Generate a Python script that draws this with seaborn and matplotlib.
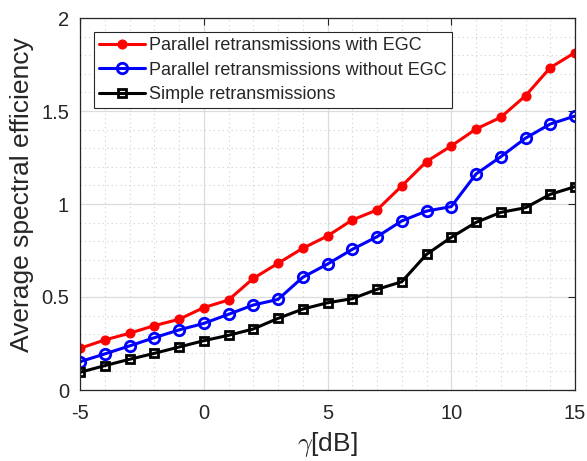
import matplotlib
matplotlib.use("Agg")
import matplotlib.pyplot as plt
import seaborn as sns
import pandas as pd
import numpy as np
from matplotlib.ticker import MultipleLocator

gamma_db = [-5, -4, -3, -2, -1, 0, 1, 2, 3, 4, 5, 6, 7, 8, 9, 10, 11, 12, 13, 14, 15]
egc = [0.224, 0.269, 0.305, 0.346, 0.380, 0.443, 0.484, 0.600, 0.681, 0.762, 0.828,
       0.914, 0.968, 1.097, 1.228, 1.312, 1.403, 1.466, 1.582, 1.733, 1.814]
no_egc = [0.152, 0.194, 0.237, 0.281, 0.323, 0.358, 0.407, 0.457, 0.487, 0.606, 0.677,
          0.756, 0.824, 0.909, 0.962, 0.986, 1.161, 1.254, 1.354, 1.430, 1.473]
simple = [0.095, 0.131, 0.165, 0.197, 0.231, 0.265, 0.294, 0.328, 0.385, 0.435, 0.469,
          0.491, 0.541, 0.582, 0.729, 0.821, 0.901, 0.955, 0.980, 1.052, 1.093]
labels = ["Parallel retransmissions with EGC",
          "Parallel retransmissions without EGC",
          "Simple retransmissions"]

sns.set_style("white")
plt.rcParams['font.family'] = ['Liberation Sans', 'DejaVu Sans']
plt.rcParams['axes.unicode_minus'] = False
plt.rcParams['mathtext.fontset'] = 'cm'

fig = plt.figure(figsize=(5.87, 4.61), dpi=100)
ax = fig.add_axes([80/587, 1-390/461, (575-80)/587, (390-18)/461])

styles = [
    dict(color="#ff0000", marker="o", markersize=6.5, markerfacecolor="#ff0000", markeredgecolor="#ff0000"),
    dict(color="#0000ff", marker="o", markersize=7.5, markerfacecolor="none", markeredgecolor="#0000ff", markeredgewidth=2),
    dict(color="#000000", marker="s", markersize=6, markerfacecolor="none", markeredgecolor="#000000", markeredgewidth=2),
]
for vals, lab, st in zip([egc, no_egc, simple], labels, styles):
    df = pd.DataFrame({"x": gamma_db, "y": vals})
    sns.lineplot(data=df, x="x", y="y", ax=ax, label=lab, linewidth=2.2, **st)

ax.set_xlim(-5, 15)
ax.set_ylim(0, 2)
ax.xaxis.set_major_locator(MultipleLocator(5))
ax.xaxis.set_minor_locator(MultipleLocator(1))
ax.yaxis.set_major_locator(MultipleLocator(0.5))
ax.yaxis.set_minor_locator(MultipleLocator(0.1))
ax.set_yticks([0, 0.5, 1, 1.5, 2])
ax.set_yticklabels(["0", "0.5", "1", "1.5", "2"])
ax.grid(True, which="major", color="#dcdcdc", linewidth=0.9, linestyle="-")
ax.grid(True, which="minor", color="#d0d0d0", linewidth=0.8, linestyle=(0, (1, 3)))
ax.set_axisbelow(True)
ax.tick_params(which="major", direction="in", length=5, width=0.8, top=True, right=True,
               labelsize=14.5, colors="#262626", pad=8)
ax.tick_params(axis="x", which="major", pad=10)
ax.tick_params(which="minor", length=0)
for s in ax.spines.values():
    s.set_color("#262626")
    s.set_linewidth(0.9)

ax.set_xlabel(r"$\gamma$[dB]", fontsize=19, color="#262626", labelpad=5)
ax.set_ylabel("Average spectral efficiency", fontsize=19, color="#262626")
ax.yaxis.set_label_coords(-0.093, 0.524)

leg = ax.legend(loc="upper left", bbox_to_anchor=(14/495, 1 - 14/372), fontsize=13,
                frameon=True, fancybox=False, edgecolor="#262626", framealpha=1,
                borderpad=0.3, labelspacing=0.4, handlelength=2.5, handletextpad=0.25,
                borderaxespad=0)
leg.get_frame().set_linewidth(0.8)

fig.savefig("out.png", dpi=100)
